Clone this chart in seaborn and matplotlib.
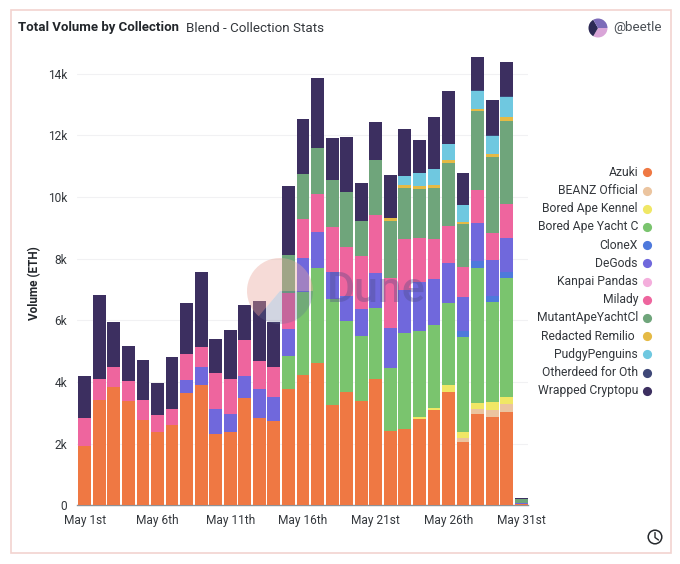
#!/usr/bin/env python3
"""Total volume by collection: stacked daily bars, May 1st to 31st."""

import matplotlib.pyplot as plt
import numpy as np
import pandas as pd
import seaborn as sns
from matplotlib.patches import Circle, Rectangle, Wedge

W, H = 680, 564

DAYS = list(range(1, 32))

# daily volume per collection, in ETH
azuki = [1930, 3430, 3830, 3380, 2770, 2380, 2590, 3650, 3890, 2310, 2380, 3470, 2840, 2740, 3780, 4230,
         4610, 3240, 3680, 3370, 4100, 2420, 2480, 2810, 3100, 3680, 2060, 2960, 2850, 3020, 60]
beanz = [0] * 26 + [130, 170, 230, 260, 0]
kennel = [0] * 23 + [65, 45, 230, 195, 195, 260, 240, 0]
bayc = [0] * 14 + [1070, 2700, 3070, 3450, 2300, 2110, 2300, 2040, 3120, 2765, 2700, 2655, 3065, 4380, 3240, 3840, 0]
clonex = [0] * 26 + [205, 205, 195, 205, 0]
degods = [0, 0, 0, 0, 0, 0, 0, 410, 590, 820, 590, 730, 930, 760, 875, 1100, 1190, 890, 810, 900, 1130, 1300,
          1380, 1615, 1490, 1300, 1115, 1240, 1185, 1115, 30]
milady = [890, 660, 650, 650, 650, 550, 540, 850, 650, 1160, 1120, 1170, 900, 1000, 1170, 1255, 1240, 1460,
          1570, 1690, 1880, 1600, 1670, 1400, 1310, 1190, 950, 1060, 885, 1080, 0]
mutant = [0] * 14 + [1210, 1450, 1480, 1510, 1790, 1145, 1800, 1850, 1640, 1590, 1630, 2030, 1390, 2590, 2450,
                     2710, 120]
redacted = [0] * 21 + [95, 110, 110, 120, 110, 75, 65, 90, 110, 0]
pudgy = [0] * 22 + [290, 430, 500, 530, 540, 570, 590, 650, 0]
otherdeed = [0] * 27 + [45, 30, 55, 0]
wrapped = [1370, 2730, 1460, 1145, 1285, 1040, 1685, 1640, 2445, 1100, 1580, 1110, 1950, 1440, 2240, 1790,
           2250, 1360, 1780, 1250, 1230, 1400, 1510, 1060, 1680, 1700, 1050, 1040, 1135, 1090, 30]

COLLECTIONS = {
    "Azuki": azuki,
    "BEANZ Official": beanz,
    "Bored Ape Kennel": kennel,
    "Bored Ape Yacht C": bayc,
    "CloneX": clonex,
    "DeGods": degods,
    "Kanpai Pandas": [0] * 31,
    "Milady": milady,
    "MutantApeYachtCl": mutant,
    "Redacted Remilio ": redacted,
    "PudgyPenguins": pudgy,
    "Otherdeed for Oth": otherdeed,
    "Wrapped Cryptopu": wrapped,
}
COLORS = ["#EF7843", "#EBC49F", "#F0E765", "#7AC46E", "#4E79DC", "#7068DC", "#F4AEDC",
          "#EE659E", "#6FA57B", "#E5BA45", "#6FC8E0", "#3F4878", "#3C2F60"]

Y_TICKS = [0, 2000, 4000, 6000, 8000, 10000, 12000, 14000]
Y_LABELS = ["0", "2k", "4k", "6k", "8k", "10k", "12k", "14k"]
X_TICKS = [1, 6, 11, 16, 21, 26, 31]
X_LABELS = ["May 1st", "May 6th", "May 11th", "May 16th", "May 21st", "May 26th", "May 31st"]

INK = "#33373c"


def fx(px):
    return px / W


def fy(py):
    return 1 - py / H


def draw_frame(fig):
    fig.add_artist(Rectangle((fx(10.5), fy(553)), fx(660), 543 / H, transform=fig.transFigure,
                             fill=False, edgecolor="#f2d3cf", linewidth=1.2))
    fig.text(fx(18), fy(28), "Total Volume by Collection", fontsize=9.5, fontweight="bold", color="#22262b",
             ha="left", va="center")
    fig.text(fx(186), fy(28), "Blend - Collection Stats", fontsize=9.6, color="#33373c", ha="left", va="center")
    fig.text(fx(662), fy(28), "@beetle", fontsize=9.6, color="#4b5056", ha="right", va="center")


def draw_overlay(fig):
    over = fig.add_axes([0, 0, 1, 1], facecolor="none")
    over.set_xlim(0, W)
    over.set_ylim(H, 0)
    over.axis("off")

    # avatar
    for start, end, color in [(0, 120, "#d9a5d8"), (120, 240, "#2d2a55"), (240, 360, "#7c6bb8")]:
        over.add_patch(Wedge((598, 28), 9.5, start, end, facecolor=color, edgecolor="none"))

    # clock icon
    over.add_patch(Circle((655, 537), 6.8, fill=False, edgecolor="#26292d", linewidth=1.1))
    over.plot([655, 655, 658.5], [532.5, 537.5, 540], color="#26292d", linewidth=1.0)

    # watermark, y grows downward here so the angles are mirrored
    over.add_patch(Wedge((280, 291), 33, 130, 360, facecolor="#e9a79b", alpha=0.4, edgecolor="none"))
    over.add_patch(Wedge((280, 291), 33, 0, 130, facecolor="#5c6a95", alpha=0.28, edgecolor="none"))
    over.text(327, 291, "Dune", fontsize=31, fontweight="medium", color="#4e4a86", alpha=0.36, ha="left",
              va="center")

    # legend, truncated the way the dashboard truncates it
    for i, (name, color) in enumerate(zip(COLLECTIONS, COLORS)):
        y = 172.3 + i * 18.2
        over.text(638, y, name, fontsize=8.7, color=INK, ha="right", va="center")
        over.plot(646.7, y, "o", markersize=6.6, color=color, markeredgewidth=0)


def main():
    sns.set_theme(style="white")
    plt.rcParams["font.family"] = ["Roboto", "DejaVu Sans"]

    df = pd.DataFrame(
        [(day, name, vals[i]) for name, vals in COLLECTIONS.items() for i, day in enumerate(DAYS)],
        columns=["day", "collection", "volume"],
    )
    df = df[df["volume"] > 0]

    fig = plt.figure(figsize=(W / 100, H / 100), dpi=100)
    ax = fig.add_axes([fx(77), fy(505.4), fx(451), 455.4 / H])

    # seaborn stacks the first hue on top, so feed the order reversed
    sns.histplot(
        data=df,
        x="day",
        weights="volume",
        hue="collection",
        hue_order=list(COLLECTIONS)[::-1],
        palette=dict(zip(COLLECTIONS, COLORS)),
        multiple="stack",
        discrete=True,
        shrink=0.88,
        linewidth=0,
        alpha=1,
        legend=False,
        ax=ax,
        zorder=3,
    )

    ax.set_xlim(0.47, 31.46)
    ax.set_ylim(0, 14762)
    ax.set_xticks(X_TICKS, X_LABELS)
    ax.set_yticks(Y_TICKS, Y_LABELS)
    ax.tick_params(axis="both", length=0, labelsize=8.6, labelcolor=INK)
    ax.tick_params(axis="x", pad=6)
    ax.tick_params(axis="y", pad=7)
    ax.grid(axis="y", color="#f1f1f3", linewidth=0.8, zorder=0)
    ax.set_axisbelow(True)
    ax.set_xlabel("")
    ax.set_ylabel("")
    sns.despine(ax=ax, left=True)
    ax.spines["bottom"].set_color("#8e9196")
    ax.spines["bottom"].set_linewidth(1.0)
    fig.text(fx(35), fy(283), "Volume (ETH)", rotation=90, fontsize=8.5, fontweight="bold", color="#22262b",
             ha="center", va="center")

    draw_frame(fig)
    draw_overlay(fig)
    fig.savefig("out.png", dpi=100, facecolor="white")


if __name__ == "__main__":
    main()
